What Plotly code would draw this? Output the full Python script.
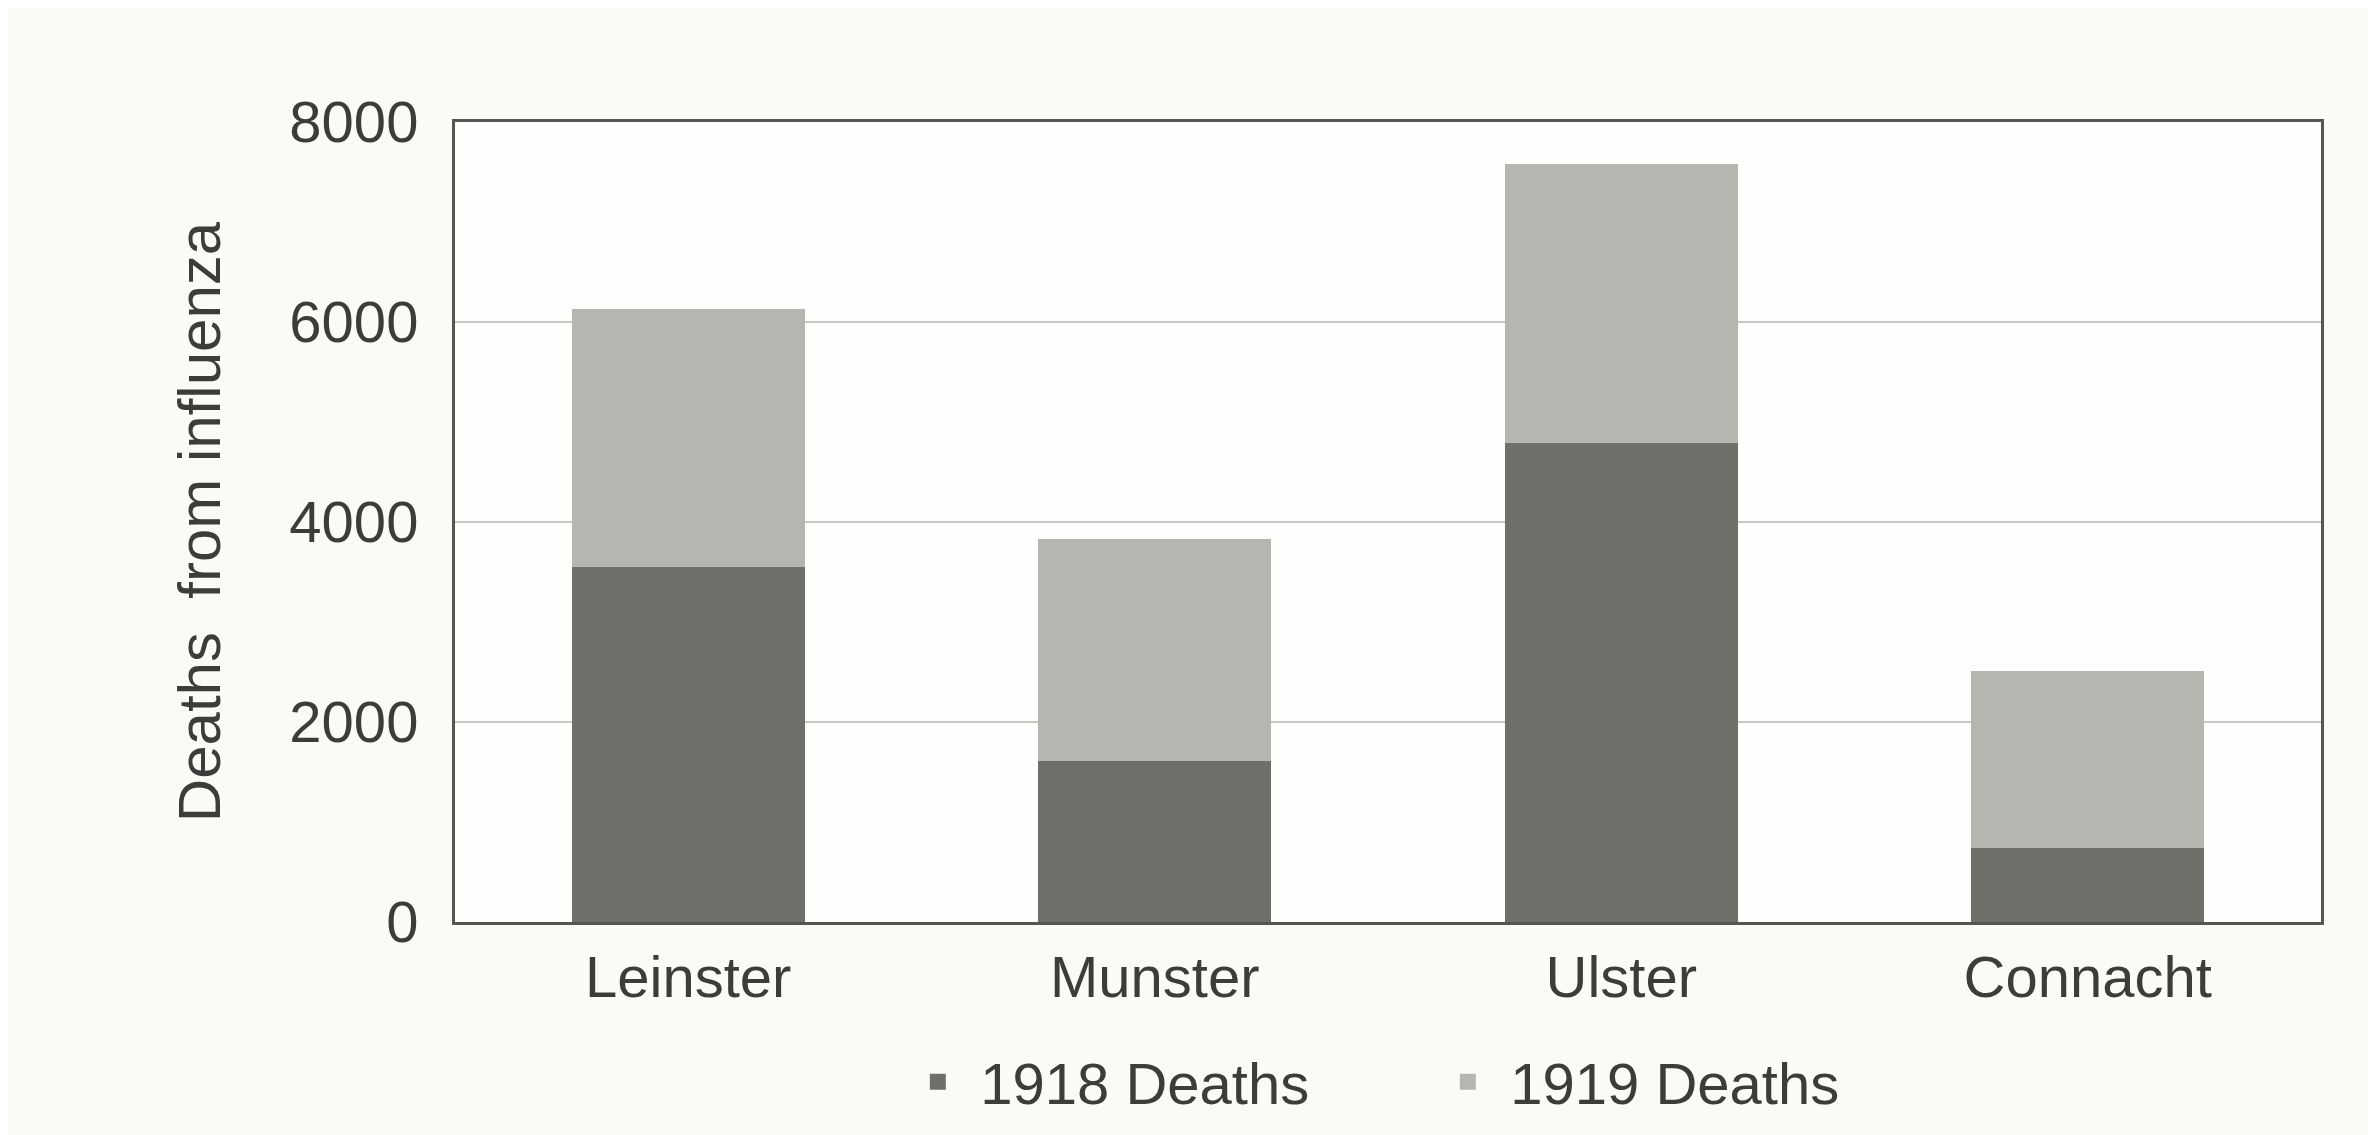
import plotly.graph_objects as go

provinces = ["Leinster", "Munster", "Ulster", "Connacht"]
deaths_1918 = [3550, 1610, 4790, 740]
deaths_1919 = [2580, 2220, 2790, 1775]
y_ticks = [0, 2000, 4000, 6000, 8000]
series_names = ["1918 Deaths", "1919 Deaths"]
series_colors = ["#6f6f69", "#b6b6b1"]

FONT = "Liberation Sans, Arial, sans-serif"
TXT = "#3c3c3a"
FS = 58

fig = go.Figure()
for vals, name, col in zip([deaths_1918, deaths_1919], series_names, series_colors):
    fig.add_trace(go.Bar(x=provinces, y=vals, name=name, showlegend=False,
                         marker=dict(color=col, line=dict(width=0))))
# legend entries with square swatches
for name, col in zip(series_names, series_colors):
    fig.add_trace(go.Scatter(x=[None], y=[None], mode="markers", name=name,
                             marker=dict(symbol="square", size=25, color=col)))

fig.update_layout(
    barmode="stack",
    bargap=0.5,
    width=2376, height=1135,
    paper_bgcolor="#fafaf7",
    plot_bgcolor="#fdfdfb",
    margin=dict(l=447, r=63, t=114, b=221),
    font=dict(family=FONT, size=FS, color=TXT),
    legend=dict(orientation="h", x=0.52, xanchor="center", y=-0.2, yanchor="middle",
                font=dict(size=FS, color=TXT), itemwidth=75, traceorder="normal",
                entrywidth=440, entrywidthmode="pixels",
                bgcolor="rgba(0,0,0,0)"),
    showlegend=True,
)
fig.update_xaxes(showline=True, linecolor="#555552", linewidth=3, mirror=True,
                 tickfont=dict(size=FS, color=TXT), ticks="", ticklabelstandoff=2)
fig.update_yaxes(range=[0, 8000], tickvals=y_ticks, showgrid=True, gridcolor="#c8c8c4",
                 gridwidth=2, showline=True, linecolor="#555552", linewidth=3, mirror=True,
                 tickfont=dict(size=FS, color=TXT), ticks="", ticklabelstandoff=22,
                 title=dict(text="Deaths  from influenza", font=dict(size=60, color=TXT), standoff=50),
                 zeroline=False)

fig.write_html("out.html")
